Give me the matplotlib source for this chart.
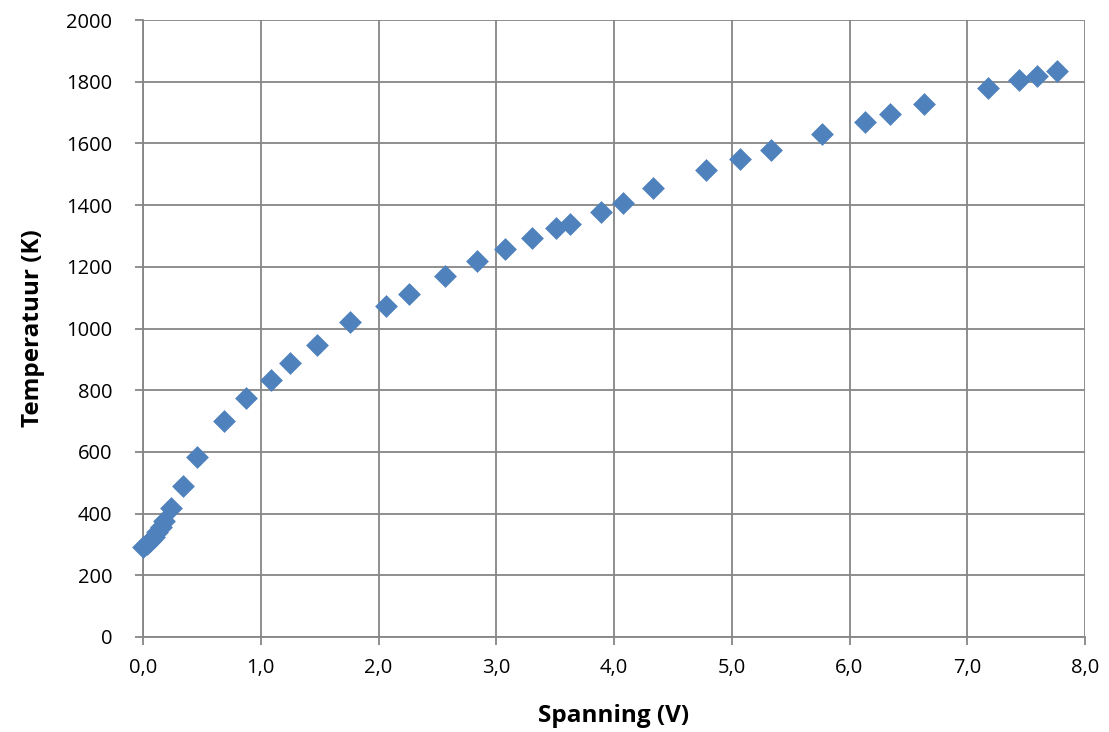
import matplotlib
matplotlib.use("Agg")
import matplotlib.pyplot as plt
from matplotlib.ticker import FuncFormatter

plt.rcParams['font.family'] = ['Open Sans', 'DejaVu Sans']

# Spanning (V) en temperatuur (K)
spanning = [0.00, 0.03, 0.06, 0.09, 0.12, 0.15, 0.18, 0.235, 0.337, 0.456,
            0.688, 0.875, 1.087, 1.248, 1.478, 1.758, 2.064, 2.259, 2.565, 2.837,
            3.074, 3.304, 3.507, 3.626, 3.890, 4.076, 4.331, 4.781, 5.070, 5.333,
            5.766, 6.132, 6.344, 6.633, 7.176, 7.439, 7.592, 7.762]
temperatuur = [293, 300, 310, 325, 340, 355, 375, 417, 490, 582,
               700, 775, 833, 888, 947, 1021, 1073, 1112, 1170, 1219,
               1258, 1293, 1326, 1339, 1378, 1407, 1455, 1514, 1549, 1579,
               1630, 1669, 1695, 1728, 1780, 1806, 1819, 1835]

grid_col = "#868686"

fig = plt.figure(figsize=(11.09, 7.32), dpi=100)
ax = fig.add_axes([143/1109, 1 - 637/732, (1085 - 143)/1109, (637 - 20)/732])

ax.scatter(spanning, temperatuur, marker="D", s=135, color="#4F81BD",
           linewidths=0, zorder=3, clip_on=False)

ax.set_xlim(0, 8)
ax.set_ylim(0, 2000)
ax.set_xticks([i for i in range(9)])
ax.set_yticks(range(0, 2001, 200))
ax.xaxis.set_major_formatter(FuncFormatter(lambda v, p: f"{v:.1f}".replace(".", ",")))

ax.grid(True, color=grid_col, linewidth=1.3)
ax.set_axisbelow(True)
for s in ("top", "right"):
    ax.spines[s].set_visible(False)
for s in ("left", "bottom"):
    ax.spines[s].set_color(grid_col)
    ax.spines[s].set_linewidth(1.3)
ax.tick_params(direction="out", length=6, width=1.3, color=grid_col,
               labelsize=14.5, labelcolor="black")
ax.tick_params(axis="y", pad=16)
ax.tick_params(axis="x", pad=9)

ax.set_xlabel("Spanning (V)", fontsize=17.5, fontweight="bold", labelpad=19)
ax.set_ylabel("Temperatuur (K)", fontsize=17.5, fontweight="bold", labelpad=15)

fig.savefig("out.png", dpi=100)
